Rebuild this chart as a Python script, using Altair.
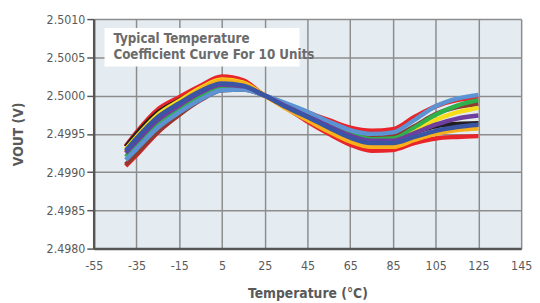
import altair as alt
import pandas as pd

temps = [-40, -35, -25, -15, -5, 5, 15, 25, 35, 45, 55, 65, 75, 85, 95, 105, 115, 125]

unit_names = ["U1", "U2", "U3", "U4", "U5", "U6", "U7", "U8", "U9", "U10"]
unit_colors = ["#e8252a", "#e8252a", "#231f20", "#8e3b32", "#2eb04b",
               "#5b93d3", "#f5dd1a", "#f9b11b", "#6e3f9e", "#3a55a4"]

u1 = [2.49934, 2.49952, 2.49982, 2.49998, 2.50013, 2.50025, 2.50020, 2.50000, 2.49988, 2.49978, 2.49968, 2.49958, 2.49954, 2.49956, 2.49972, 2.49986, 2.49994, 2.49997]
u2 = [2.49908, 2.49922, 2.49952, 2.49975, 2.49996, 2.50010, 2.50010, 2.50000, 2.49984, 2.49966, 2.49950, 2.49936, 2.49928, 2.49929, 2.49938, 2.49944, 2.49946, 2.49947]
u3 = [2.49933, 2.49950, 2.49978, 2.49994, 2.50008, 2.50018, 2.50015, 2.50000, 2.49987, 2.49975, 2.49962, 2.49950, 2.49944, 2.49944, 2.49952, 2.49960, 2.49963, 2.49964]
u4 = [2.49910, 2.49924, 2.49953, 2.49975, 2.49994, 2.50007, 2.50008, 2.50000, 2.49989, 2.49977, 2.49964, 2.49952, 2.49946, 2.49947, 2.49960, 2.49976, 2.49985, 2.49989]
u5 = [2.49920, 2.49935, 2.49962, 2.49982, 2.50000, 2.50012, 2.50011, 2.50000, 2.49987, 2.49975, 2.49962, 2.49950, 2.49943, 2.49944, 2.49958, 2.49975, 2.49987, 2.49994]
u6 = [2.49916, 2.49930, 2.49958, 2.49978, 2.49995, 2.50007, 2.50008, 2.50000, 2.49990, 2.49979, 2.49966, 2.49955, 2.49950, 2.49952, 2.49968, 2.49986, 2.49996, 2.50001]
u7 = [2.49930, 2.49946, 2.49975, 2.49993, 2.50010, 2.50021, 2.50017, 2.50000, 2.49984, 2.49970, 2.49956, 2.49944, 2.49937, 2.49938, 2.49952, 2.49968, 2.49978, 2.49984]
u8 = [2.49926, 2.49942, 2.49970, 2.49990, 2.50008, 2.50020, 2.50016, 2.50000, 2.49983, 2.49968, 2.49953, 2.49940, 2.49933, 2.49933, 2.49942, 2.49950, 2.49955, 2.49957]
u9 = [2.49925, 2.49940, 2.49968, 2.49987, 2.50004, 2.50014, 2.50012, 2.50000, 2.49986, 2.49973, 2.49960, 2.49948, 2.49941, 2.49941, 2.49951, 2.49962, 2.49970, 2.49974]
u10 = [2.49928, 2.49944, 2.49972, 2.49990, 2.50006, 2.50016, 2.50013, 2.50000, 2.49985, 2.49972, 2.49958, 2.49945, 2.49938, 2.49938, 2.49946, 2.49954, 2.49959, 2.49962]

x_ticks = [-55, -35, -15, 5, 25, 45, 65, 85, 105, 125, 145]
y_ticks = [2.4980, 2.4985, 2.4990, 2.4995, 2.5000, 2.5005, 2.5010]

note_lines = ["Typical Temperature", "Coefficient Curve For 10 Units"]

series = [u1, u2, u3, u4, u5, u6, u7, u8, u9, u10]
rows = []
for i, (name, vals) in enumerate(zip(unit_names, series)):
    for t, v in zip(temps, vals):
        rows.append({"unit": name, "order": i, "temp": t, "vout": v})
df = pd.DataFrame(rows)

FONT = "DejaVu Sans Condensed, Roboto, sans-serif"
GRAY = "#595959"

x_enc = alt.X("temp:Q", scale=alt.Scale(domain=[-55, 145], nice=False),
              axis=alt.Axis(values=x_ticks, title="Temperature (°C)", tickSize=0,
                            labelExpr="'' + datum.value",
                            labelPadding=11, titlePadding=15, labelFontSize=12.5,
                            titleFontSize=14, labelFlush=False))
y_enc = alt.Y("vout:Q", scale=alt.Scale(domain=[2.4980, 2.5010], nice=False, zero=False),
              axis=alt.Axis(values=y_ticks, format=".4f", title="VOUT (V)", tickSize=7,
                            labelPadding=2, titlePadding=21, labelFontSize=12.5,
                            titleFontSize=14))

lines = alt.Chart(df).mark_line(interpolate="monotone", strokeWidth=4.5).encode(
    x=x_enc,
    y=y_enc,
    color=alt.Color("unit:N", scale=alt.Scale(domain=unit_names, range=unit_colors), legend=None),
    order=alt.Order("order:Q"),
    detail="unit:N",
)

one = pd.DataFrame({"a": [0]})
box = alt.Chart(one).mark_rect(color="white").encode(
    x=alt.value(11), x2=alt.value(209), y=alt.value(9), y2=alt.value(48)
)

def note_layer(txt, ypos):
    return alt.Chart(pd.DataFrame({"t": [txt]})).mark_text(
        align="left", baseline="middle", font=FONT, fontSize=13.5, fontWeight="bold",
        color="#6b6b6b"
    ).encode(x=alt.value(20), y=alt.value(ypos), text="t:N")

note1 = note_layer(note_lines[0], 20)
note2 = note_layer(note_lines[1], 36)

chart = alt.layer(lines, box, note1, note2).properties(
    width=434, height=233,
    autosize=alt.AutoSizeParams(type="none"),
    padding={"left": 87, "top": 9, "right": 11, "bottom": 56},
    background="white",
).configure_view(fill="#e5ecf1", stroke=None).configure_axis(
    labelFont=FONT, titleFont=FONT, labelColor=GRAY, titleColor=GRAY,
    titleFontWeight="bold", gridColor="#8c8c8c", gridWidth=1.5,
    domainColor="#555555", domainWidth=2.5, tickColor="#555555", tickWidth=1.5,
)

chart.save("out.html", embed_options={"renderer": "svg", "actions": False})
